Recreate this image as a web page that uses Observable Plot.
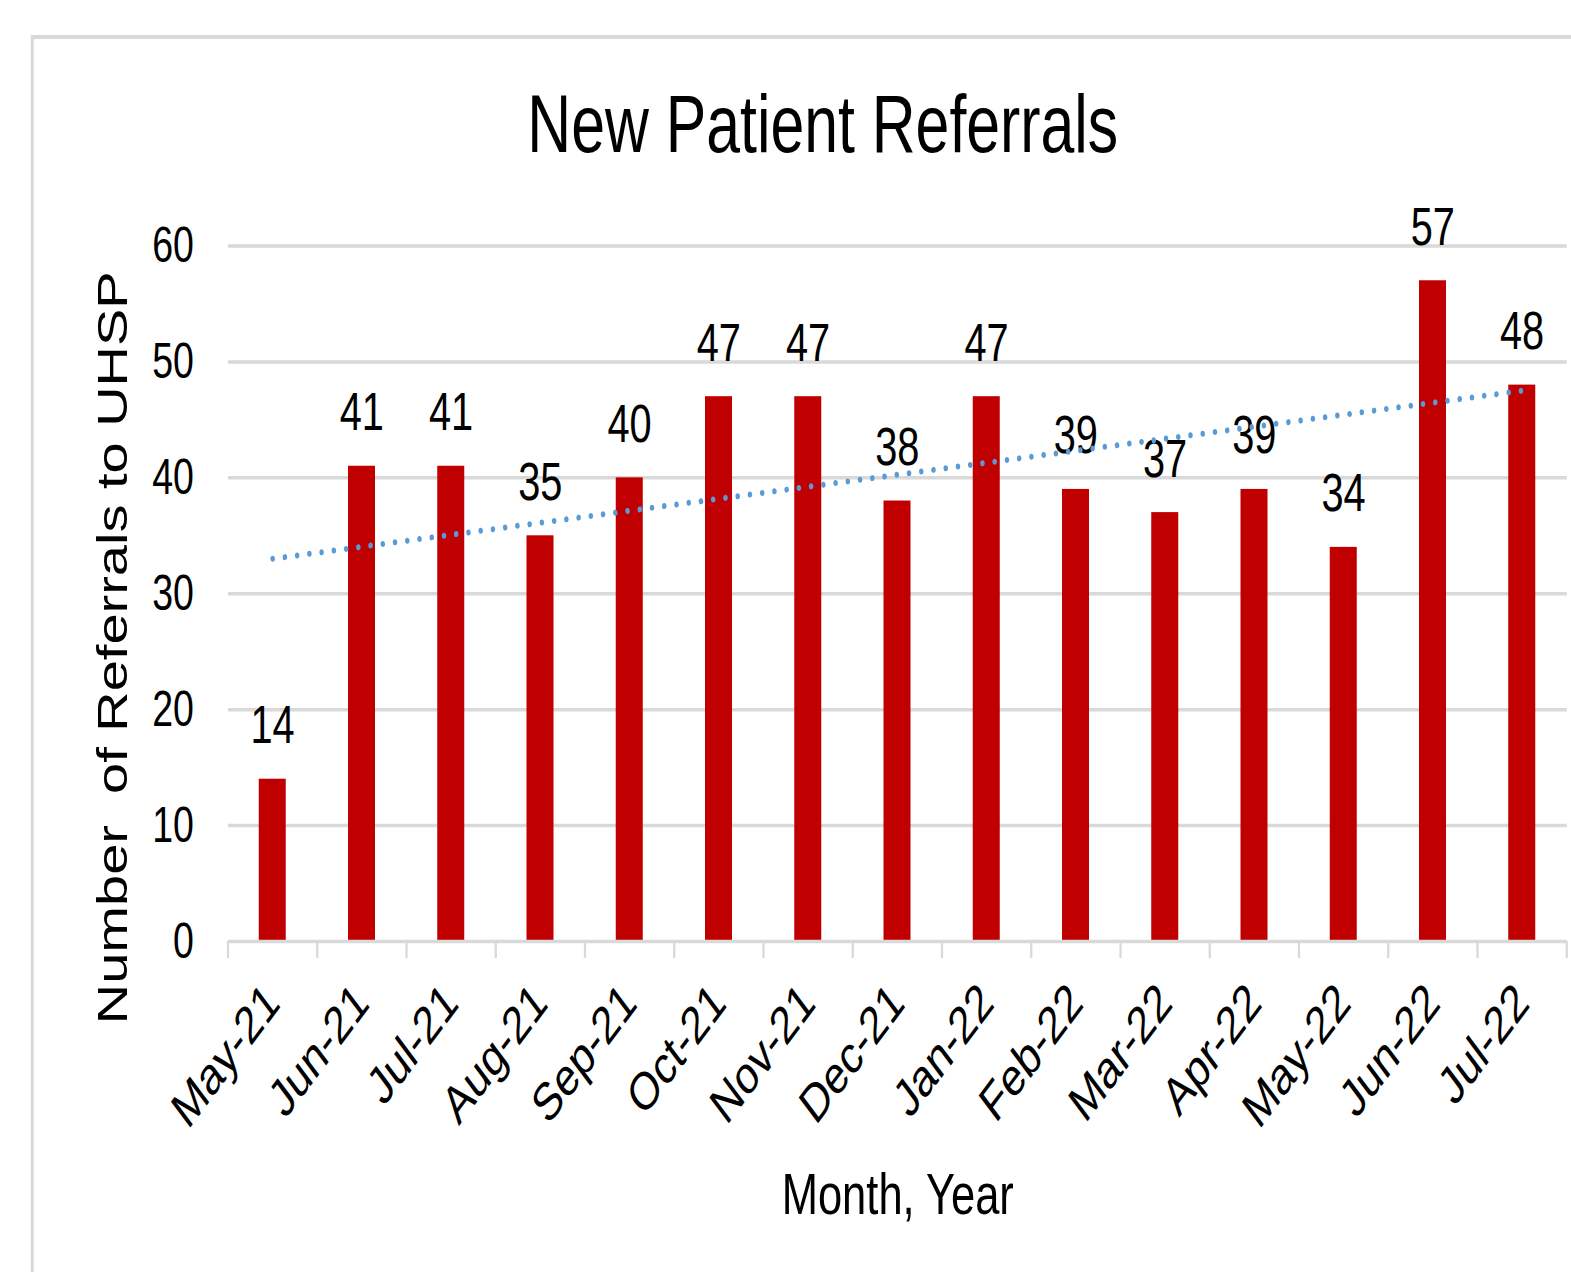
<!DOCTYPE html>
<html><head><meta charset="utf-8">
<script src="https://cdn.jsdelivr.net/npm/d3@7"></script>
<script src="https://cdn.jsdelivr.net/npm/@observablehq/plot@0.6"></script>
<style>
html,body{margin:0;padding:0;background:#fff;overflow:hidden;width:1571px;height:1272px;}
#wrap{position:absolute;left:0;top:0;width:2095px;height:1272px;transform:scaleX(0.75);transform-origin:0 0;font-family:"Liberation Sans",Arial,sans-serif;color:#000;}
#frame{position:absolute;left:41px;top:35px;width:2300px;height:1400px;border:4px solid #d9d9d9;box-sizing:border-box;}
#title{position:absolute;left:597px;width:1000px;top:84px;text-align:center;font-size:81px;line-height:80px;}
#chart{position:absolute;left:0;top:0;}
</style></head>
<body>
<div id="wrap"><div id="frame"></div><div id="title"></div><div id="chart"></div></div>
<script>
const titleText = "New Patient Referrals";
const xLabel = "Month, Year";
const yLabel = "Number\u00a0 of Referrals to UHSP";
const months = ["May-21","Jun-21","Jul-21","Aug-21","Sep-21","Oct-21","Nov-21","Dec-21","Jan-22","Feb-22","Mar-22","Apr-22","May-22","Jun-22","Jul-22"];
const referrals = [14,41,41,35,40,47,47,38,47,39,37,39,34,57,48];
const yTicks = [0,10,20,30,40,50,60];

document.getElementById("title").textContent = titleText;

const data = months.map((m,i)=>({month:m, value:referrals[i]}));
// least-squares linear trendline over the month index
const n = referrals.length;
const mx = d3.mean(referrals, (_, i) => i), my = d3.mean(referrals);
const slope = d3.sum(referrals, (v, i) => (i - mx) * (v - my)) / d3.sum(referrals, (_, i) => (i - mx) ** 2);
const icpt = my - slope * mx;
const trend = [{month: months[0], v: icpt}, {month: months[n-1], v: icpt + slope * (n-1)}];

const W = 2095, H = 1272, mL = 304, mR = 6, mT = 245.5, mB = 331;
const step = (W - mL - mR) / months.length;
const grey = "#d9d9d9";

const chart = Plot.plot({
  width: W, height: H,
  marginLeft: mL, marginRight: mR, marginTop: mT, marginBottom: mB,
  style: {fontFamily: "Liberation Sans, Arial, sans-serif", fontSize: "52px", color: "#000", background: "transparent", overflow: "visible"},
  x: {domain: months, paddingInner: 0.694, paddingOuter: 0.347, label: null},
  y: {domain: [0, 60], label: null},
  marks: [
    Plot.gridY(yTicks.filter(t => t > 0), {stroke: grey, strokeOpacity: 1, strokeWidth: 3.5}),
    Plot.axisY(yTicks, {tickSize: 0, tickPadding: 46, fontSize: 50, label: null}),
    Plot.barY(data, {x: "month", y: "value", fill: "#C00000"}),
    Plot.ruleY([0], {stroke: grey, strokeWidth: 3.5}),
    Plot.axisX({tickSize: 17, fill: "none", stroke: grey, strokeWidth: 3, strokeOpacity: 1, dx: -step/2, label: null}),
    Plot.axisX([months[n-1]], {tickSize: 17, fill: "none", stroke: grey, strokeWidth: 3, strokeOpacity: 1, dx: step/2, label: null}),
    Plot.axisX({tickSize: 0, tickPadding: 52, tickRotate: -45, textAnchor: "end", lineAnchor: "middle", fontSize: 53, dx: 0, label: null}),
    Plot.text(data, {x: "month", y: "value", text: d => String(d.value), lineAnchor: "bottom", dy: -36, fontSize: 53, fill: "#000"}),
    Plot.line(trend, {x: "month", y: "v", stroke: "#5B9BD5", strokeWidth: 6, strokeDasharray: "0.1,16.3", strokeLinecap: "round"}),
    Plot.text([yLabel], {text: d => d, frameAnchor: "left", textAnchor: "middle", rotate: -90, dx: 151 - mL, dy: 54, fontSize: 56, fill: "#000"}),
    Plot.text([xLabel], {text: d => d, frameAnchor: "bottom", dy: 272, fontSize: 58, fill: "#000"})
  ]
});
document.getElementById("chart").appendChild(chart);
</script>
</body></html>
